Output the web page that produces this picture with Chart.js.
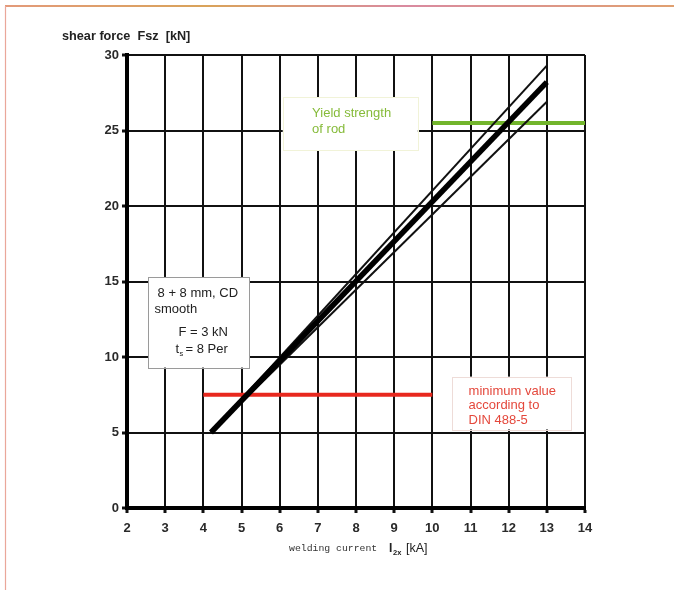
<!DOCTYPE html>
<html>
<head>
<meta charset="utf-8">
<script src="https://cdn.jsdelivr.net/npm/chart.js@4/dist/chart.umd.min.js"></script>
<style>
  html, body { margin: 0; padding: 0; background: #fff; }
  #c { display: block; }
</style>
</head>
<body>
<canvas id="c" width="674" height="596"></canvas>
<script>
// Shear force vs. welding current, 8 + 8 mm CD smooth rod
const xTicks = [2, 3, 4, 5, 6, 7, 8, 9, 10, 11, 12, 13, 14];
const yTicks = [0, 5, 10, 15, 20, 25, 30];

// welding current [kA] / shear force [kN]
const meanCurrent = [4.2, 13.0];
const meanForce = [5.0, 28.2];
const upperCurrent = [4.2, 13.0];
const upperForce = [5.0, 29.3];
const lowerCurrent = [4.2, 13.0];
const lowerForce = [5.0, 26.9];

// minimum value according to DIN 488-5
const minCurrent = [4, 10];
const minForce = [7.5, 7.5];
// yield strength of rod
const yieldCurrent = [10, 14];
const yieldForce = [25.5, 25.5];

const pts = (xs, ys) => xs.map((x, i) => ({ x: x, y: ys[i] }));

// text boxes placed in data coordinates: [x1, y1, x2, y2]
const notes = [
  {
    box: [6.08, 27.2, 9.62, 23.7], fill: '#ffffff', stroke: '#f1f3d8', color: '#86bb3a',
    lines: [['Yield strength', 6.85, 26.1], ['of rod', 6.85, 25.1]]
  },
  {
    box: [2.55, 15.3, 5.2, 9.3], fill: '#ffffff', stroke: '#9a9a9a', color: '#222',
    lines: [['8 + 8 mm, CD', 2.8, 14.2], ['smooth', 2.72, 13.15], ['F = 3 kN', 3.35, 11.6]]
  },
  {
    box: [10.52, 8.7, 13.65, 5.2], fill: '#ffffff', stroke: '#eedcd8', color: '#e4483c',
    lines: [['minimum value', 10.95, 7.75], ['according to', 10.95, 6.8], ['DIN 488-5', 10.95, 5.8]]
  }
];

const FONT = '"Liberation Sans", Arial, sans-serif';

const decor = {
  id: 'decor',
  beforeDraw(chart) {
    const ctx = chart.ctx;
    ctx.save();
    ctx.fillStyle = '#ffffff';
    ctx.fillRect(0, 0, chart.width, chart.height);
    // page frame
    const g = ctx.createLinearGradient(5, 0, 674, 0);
    g.addColorStop(0, '#e39a7a');
    g.addColorStop(0.3, '#d9a35a');
    g.addColorStop(0.6, '#d98aa0');
    g.addColorStop(1, '#e0a070');
    ctx.strokeStyle = g;
    ctx.lineWidth = 2;
    ctx.beginPath();
    ctx.moveTo(5, 6); ctx.lineTo(674, 6);
    ctx.stroke();
    ctx.strokeStyle = '#eaa79a';
    ctx.lineWidth = 1.2;
    ctx.beginPath();
    ctx.moveTo(5.5, 6); ctx.lineTo(5.5, 590);
    ctx.stroke();
    ctx.restore();
  },
  afterDraw(chart) {
    const ctx = chart.ctx;
    const xs = chart.scales.x, ys = chart.scales.y;
    ctx.save();
    // axis titles
    ctx.fillStyle = '#222';
    ctx.textBaseline = 'alphabetic';
    ctx.textAlign = 'left';
    ctx.font = 'bold 12.7px ' + FONT;
    ctx.fillText('shear force  Fsz  [kN]', 62, 40);

    ctx.font = '9.8px "Liberation Mono", "DejaVu Sans Mono", monospace';
    ctx.fillStyle = '#333';
    ctx.fillText('welding current', 289, 551);
    ctx.font = 'bold 12px ' + FONT;
    ctx.fillStyle = '#222';
    ctx.fillText('I', 389, 552);
    ctx.font = 'bold 7.5px ' + FONT;
    ctx.fillText('2x', 393, 555);
    ctx.font = '12.5px ' + FONT;
    ctx.fillText('[kA]', 406, 552);

    // text boxes
    notes.forEach(n => {
      const x1 = xs.getPixelForValue(n.box[0]), y1 = ys.getPixelForValue(n.box[1]);
      const x2 = xs.getPixelForValue(n.box[2]), y2 = ys.getPixelForValue(n.box[3]);
      ctx.fillStyle = n.fill;
      ctx.fillRect(x1, y1, x2 - x1, y2 - y1);
      ctx.strokeStyle = n.stroke;
      ctx.lineWidth = 1;
      ctx.strokeRect(Math.round(x1) + 0.5, Math.round(y1) + 0.5, Math.round(x2 - x1), Math.round(y2 - y1));
      ctx.fillStyle = n.color;
      ctx.font = '13px ' + FONT;
      ctx.textBaseline = 'middle';
      n.lines.forEach(l => {
        ctx.fillText(l[0], xs.getPixelForValue(l[1]), ys.getPixelForValue(l[2]));
      });
    });
    // t_s line with subscript
    const tx = xs.getPixelForValue(3.27), ty = ys.getPixelForValue(10.5);
    ctx.fillStyle = '#222';
    ctx.font = '13px ' + FONT;
    ctx.fillText('t', tx, ty);
    ctx.font = '7.5px ' + FONT;
    ctx.fillText('s', tx + 4, ty + 4);
    ctx.font = '13px ' + FONT;
    ctx.fillText('= 8 Per', tx + 10, ty);
    ctx.restore();
  }
};

new Chart(document.getElementById('c'), {
  type: 'scatter',
  data: {
    datasets: [
      { data: pts(meanCurrent, meanForce), showLine: true, borderColor: '#000', borderWidth: 5.5, pointRadius: 0, order: 1, borderCapStyle: 'butt' },
      { data: pts(upperCurrent, upperForce), showLine: true, borderColor: '#111', borderWidth: 2, pointRadius: 0, order: 2 },
      { data: pts(lowerCurrent, lowerForce), showLine: true, borderColor: '#111', borderWidth: 2, pointRadius: 0, order: 2 },
      { data: pts(minCurrent, minForce), showLine: true, borderColor: '#e8281e', borderWidth: 4, pointRadius: 0, order: 3, borderCapStyle: 'butt' },
      { data: pts(yieldCurrent, yieldForce), showLine: true, borderColor: '#72b52c', borderWidth: 4, pointRadius: 0, order: 3, borderCapStyle: 'butt' }
    ]
  },
  options: {
    responsive: false,
    animation: false,
    events: [],
    layout: { padding: { left: 0, top: 55, right: 89, bottom: 0 } },
    plugins: { legend: { display: false }, tooltip: { enabled: false } },
    scales: {
      x: {
        type: 'linear', min: 2, max: 14,
        afterBuildTicks: s => { s.ticks = xTicks.map(v => ({ value: v })); },
        afterFit: s => { s.height = 88; },
        grid: { color: '#111', lineWidth: 2, tickLength: 5, tickColor: '#111', tickWidth: 3 },
        border: { display: true, color: '#000', width: 4 },
        ticks: { color: '#2a2a2a', padding: 8, maxRotation: 0, font: { family: FONT, size: 13, weight: 'bold' } }
      },
      y: {
        type: 'linear', min: 0, max: 30,
        afterBuildTicks: s => { s.ticks = yTicks.map(v => ({ value: v })); },
        afterFit: s => { s.width = 127; },
        grid: { color: '#111', lineWidth: 2, tickLength: 5, tickColor: '#111', tickWidth: 3 },
        border: { display: true, color: '#000', width: 4 },
        ticks: { color: '#2a2a2a', padding: 3, font: { family: FONT, size: 13, weight: 'bold' } }
      }
    }
  },
  plugins: [decor]
});
</script>
</body>
</html>
